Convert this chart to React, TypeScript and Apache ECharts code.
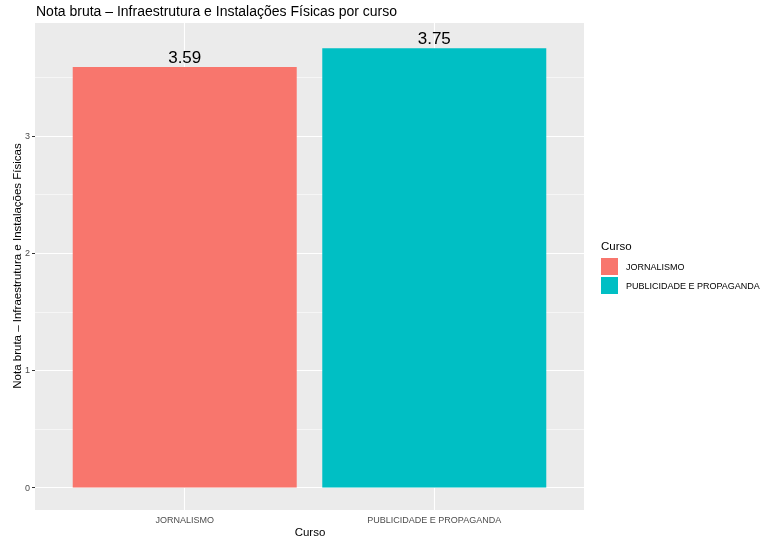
import React, { useEffect, useRef } from "react";
import * as echarts from "echarts";

const categories = ["JORNALISMO", "PUBLICIDADE E PROPAGANDA"];
const values = [3.59, 3.75];
const colors = ["#F8766D", "#00BFC4"];
const yTicks = [0, 1, 2, 3];
const yMinor = [0.5, 1.5, 2.5, 3.5];
const xPositions = [1, 2];

const FONT = "Liberation Sans, Arial, sans-serif";

export default function App() {
  const ref = useRef<HTMLDivElement>(null);
  useEffect(() => {
    if (!ref.current) return;
    const chart = echarts.init(ref.current, undefined, { renderer: "svg" });
    const gridLines: any[] = [
      ...yTicks.map((v) => ({ yAxis: v, lineStyle: { width: 1.1 } })),
      ...yMinor.map((v) => ({ yAxis: v, lineStyle: { width: 0.55 } })),
      ...xPositions.map((v) => ({ xAxis: v, lineStyle: { width: 1.1 } })),
    ];
    const barSeries = categories.map((c, i) => ({
      name: c,
      type: "bar",
      z: 10,
      barWidth: 224,
      barGap: "-100%",
      itemStyle: { color: colors[i] },
      label: {
        show: true,
        position: "top",
        distance: 1,
        fontSize: 17,
        fontFamily: FONT,
        color: "#000",
        formatter: () => values[i].toFixed(2),
      },
      data: [[xPositions[i], values[i]]],
    }));
    chart.setOption({
      animation: false,
      textStyle: { fontFamily: FONT },
      title: {
        text: "Nota bruta – Infraestrutura e Instalações Físicas por curso",
        left: 36,
        top: 4,
        padding: 0,
        textStyle: { fontSize: 14, fontWeight: "normal", color: "#000", fontFamily: FONT },
      },
      grid: {
        left: 35,
        right: 771 - 584,
        top: 23,
        bottom: 537 - 510,
        show: true,
        backgroundColor: "#EBEBEB",
        borderWidth: 0,
        containLabel: false,
        outerBoundsMode: "none",
      },
      legend: {
        orient: "vertical",
        left: 601,
        top: 258,
        padding: 0,
        itemWidth: 17,
        itemHeight: 17,
        itemGap: 2,
        icon: "rect",
        data: categories,
        textStyle: { fontSize: 9, color: "#000", fontFamily: FONT, padding: [0, 0, 0, 3] },
      },
      graphic: [
        {
          type: "text",
          left: 601,
          top: 240,
          style: { text: "Curso", fontSize: 11.5, fill: "#000", fontFamily: FONT },
        },
        {
          type: "text",
          x: 310,
          y: 532,
          style: {
            text: "Curso",
            fontSize: 11.5,
            fill: "#000",
            fontFamily: FONT,
            align: "center",
            verticalAlign: "middle",
          },
        },
        {
          type: "text",
          x: 17,
          y: 266,
          rotation: Math.PI / 2,
          style: {
            text: "Nota bruta – Infraestrutura e Instalações Físicas",
            fontSize: 11.5,
            fill: "#000",
            fontFamily: FONT,
            align: "center",
            verticalAlign: "middle",
          },
        },
      ],
      xAxis: {
        type: "value",
        min: 0.4,
        max: 2.6,
        splitLine: { show: false },
        axisLine: { show: false },
        axisTick: {
          show: true,
          customValues: xPositions,
          length: 3,
          lineStyle: { color: "#333333", width: 1 },
        },
        axisLabel: {
          customValues: xPositions,
          formatter: (v: number) => categories[Math.round(v) - 1] ?? "",
          fontSize: 9,
          color: "#4D4D4D",
          margin: 5,
          fontFamily: FONT,
        },
      },
      yAxis: {
        type: "value",
        min: -0.192,
        max: 3.966,
        splitLine: { show: false },
        axisLine: { show: false },
        axisTick: {
          show: true,
          customValues: yTicks,
          length: 3,
          lineStyle: { color: "#333333", width: 1 },
        },
        axisLabel: {
          customValues: yTicks,
          fontSize: 9,
          color: "#4D4D4D",
          margin: 5,
          fontFamily: FONT,
        },
      },
      series: [
        {
          name: "_grid",
          type: "line",
          z: 1,
          data: [[1, 0]],
          showSymbol: false,
          symbol: "none",
          lineStyle: { opacity: 0 },
          silent: true,
          markLine: {
            silent: true,
            z: 2,
            symbol: "none",
            label: { show: false },
            lineStyle: { color: "#FFFFFF", type: "solid" },
            data: gridLines,
          },
        },
        ...barSeries,
      ],
    });
    return () => chart.dispose();
  }, []);
  return (
    <div
      ref={ref}
      style={{ position: "fixed", left: 0, top: 0, width: 771, height: 537 }}
    />
  );
}
